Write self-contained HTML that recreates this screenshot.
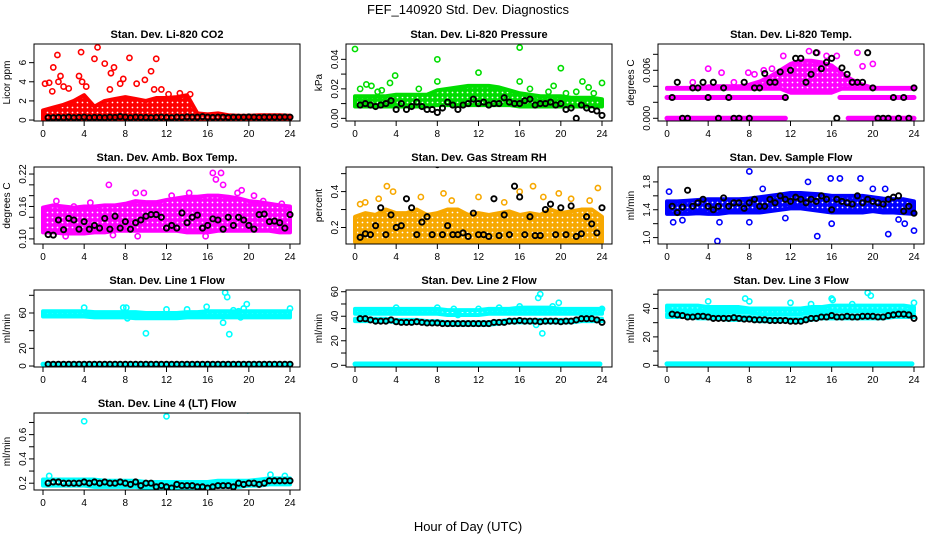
<!DOCTYPE html>
<html><head><meta charset="utf-8"><style>
html,body{margin:0;padding:0;background:#fff;}
svg{display:block;font-family:"Liberation Sans",Arial,sans-serif;}
</style></head><body>
<svg id="chart" width="936" height="540" viewBox="0 0 936 540" xmlns="http://www.w3.org/2000/svg">
<defs id="defs"></defs>
<rect x="0" y="0" width="936" height="540" fill="#fff"/>
<text x="468" y="14" text-anchor="middle" font-size="13">FEF_140920  Std. Dev. Diagnostics</text>
<text x="468" y="531" text-anchor="middle" font-size="13">Hour of Day (UTC)</text>
</svg>
<script>
const hours=[0,1,2,3,4,5,6,7,8,9,10,11,12,13,14,15,16,17,18,19,20,21,22,23,24];
const blkHours=[0.5,1,1.5,2,2.5,3,3.5,4,4.5,5,5.5,6,6.5,7,7.5,8,8.5,9,9.5,10,10.5,11,11.5,12,12.5,13,13.5,14,14.5,15,15.5,16,16.5,17,17.5,18,18.5,19,19.5,20,20.5,21,21.5,22,22.5,23,23.5,24];
const xTicks=[0,4,8,12,16,20,24];

// CO2
const co2Lo=[0.05,0.05,0.05,0.05,0.05,0.05,0.05,0.05,0.05,0.05,0.05,0.05,0.05,0.05,0.05,0.05,0.05,0.05,0.05,0.05,0.05,0.05,0.05,0.05,0.05];
const co2Hi=[1.0,1.3,1.6,2.0,2.6,1.4,2.0,2.2,2.4,2.2,2.0,2.3,2.3,2.4,2.6,0.7,0.6,0.7,0.5,0.45,0.45,0.5,0.5,0.5,0.45];
const co2OutX=[0.2,0.6,1.0,1.4,1.7,1.5,2.5,3.5,3.7,3.8,4.2,5.0,5.3,6.0,6.6,6.9,6.5,7.5,7.8,8.4,9.1,9.9,10.5,11.0,10.8,11.5,13.3,14.3,0.9,2.0,12.2];
const co2OutY=[3.8,3.9,5.5,6.8,4.6,4.0,3.3,4.6,7.1,4.0,3.5,6.4,7.6,5.9,4.9,5.5,3.2,3.8,4.3,6.5,3.8,4.2,5.1,6.4,3.2,3.2,2.8,2.7,3.0,3.5,2.7];
const co2Blk=[0.25,0.25,0.28,0.25,0.3,0.25,0.28,0.3,0.25,0.28,0.27,0.25,0.3,0.28,0.35,0.3,0.25,0.3,0.28,0.27,0.25,0.28,0.3,0.27,0.25,0.3,0.28,0.33,0.3,0.3,0.35,0.3,0.28,0.3,0.3,0.28,0.3,0.3,0.3,0.32,0.3,0.28,0.3,0.3,0.3,0.3,0.32,0.3];
const co2Ticks=[0,2,4,6];const co2Labels=["0","2","4","6"];

// Pressure
const presLo=[0.008,0.008,0.008,0.008,0.008,0.008,0.008,0.008,0.009,0.009,0.009,0.009,0.009,0.009,0.009,0.009,0.008,0.008,0.008,0.008,0.008,0.008,0.008,0.008,0.008];
const presHi=[0.015,0.015,0.015,0.015,0.016,0.016,0.016,0.016,0.019,0.02,0.021,0.022,0.022,0.022,0.021,0.019,0.017,0.016,0.015,0.015,0.015,0.014,0.014,0.014,0.013];
const presOutX=[0,0.5,1.1,1.6,2.6,3.4,3.9,8,8,12,16,16,17,18.8,19.3,20,20.5,21.5,22.1,22.7,23.2,24,2.2,6.2];
const presOutY=[0.047,0.020,0.023,0.022,0.019,0.024,0.029,0.040,0.025,0.031,0.048,0.025,0.020,0.018,0.022,0.034,0.017,0.018,0.025,0.021,0.017,0.024,0.018,0.020];
const presBlk=[0.009,0.01,0.009,0.008,0.009,0.01,0.012,0.006,0.01,0.006,0.008,0.011,0.008,0.006,0.006,0.004,0.007,0.011,0.009,0.006,0.009,0.01,0.013,0.01,0.011,0.009,0.01,0.01,0.014,0.011,0.01,0.01,0.012,0.013,0.009,0.01,0.01,0.011,0.009,0.01,0.006,0.007,0.0,0.009,0.007,0.006,0.005,0.002];
const presTicks=[0,0.01,0.02,0.03,0.04];const presLabels=["0.00","","0.02","","0.04"];

// Li-820 Temp
const ltLo=[0.0037,0.0037,0.0037,0.0037,0.0037,0.0037,0.0037,0.0037,0.0037,0.0037,0.0037,0.0037,0.0032,0.0032,0.0032,0.0032,0.0032,0.0037,0.0037,0.0037,0.0037,0.0037,0.0037,0.0037,0.0037];
const ltHi=[0.0038,0.0038,0.0038,0.0038,0.004,0.004,0.004,0.004,0.0042,0.0046,0.0052,0.006,0.0068,0.0072,0.0072,0.007,0.0066,0.0056,0.0048,0.0042,0.0038,0.0038,0.0038,0.0038,0.0038];
const ltRowVal=[0,0,0.0026,0.0026];const ltRowFrom=[0,17.6,0,16.8];const ltRowTo=[11.5,24,11.5,24];
const ltOutX=[4,5.3,7.9,11.3,13.8,14.6,15.5,16,16.5,18.5,19,20,10.2,9.4,2.5,6.5,8.5];
const ltOutY=[0.0062,0.0057,0.0057,0.0078,0.0084,0.0082,0.0078,0.0075,0.0078,0.0082,0.0065,0.0068,0.0062,0.006,0.0045,0.0045,0.0055];
const ltBlk=[0.0026,0.0045,0.0,0.0,0.0038,0.0038,0.0045,0.0026,0.0045,0.0,0.0038,0.0026,0.0,0.0,0.0045,0.0,0.0038,0.0038,0.0056,0.0045,0.0045,0.0058,0.0026,0.006,0.0075,0.0075,0.0045,0.0055,0.0082,0.0062,0.007,0.0075,0.0,0.0063,0.0055,0.0045,0.0045,0.0045,0.0082,0.0038,0.0,0.0,0.0,0.0026,0.0,0.0026,0.0,0.0038];
const ltTicks=[0,0.002,0.004,0.006,0.008];const ltLabels=["0.000","","","0.006",""];

// Amb box temp
const abLo=[0.112,0.112,0.11,0.11,0.11,0.112,0.112,0.115,0.115,0.115,0.115,0.115,0.115,0.115,0.112,0.112,0.112,0.115,0.115,0.115,0.115,0.115,0.115,0.112,0.112];
const abHi=[0.158,0.162,0.16,0.158,0.16,0.16,0.162,0.162,0.165,0.17,0.168,0.168,0.172,0.175,0.178,0.178,0.18,0.18,0.178,0.175,0.17,0.168,0.165,0.162,0.16];
const abOutX=[0.2,1.3,4.6,6.4,9,9.8,14.2,16.5,16.8,17.3,17.5,18.9,19.3,21.4,23.2,3.0,15.8,9.2,2.2,6.8,12.5,20.5];
const abOutY=[0.155,0.17,0.167,0.2,0.185,0.185,0.185,0.222,0.21,0.222,0.2,0.185,0.19,0.17,0.165,0.16,0.105,0.105,0.105,0.107,0.18,0.18];
const abBlk=[0.108,0.107,0.135,0.117,0.138,0.135,0.118,0.132,0.118,0.125,0.12,0.138,0.118,0.142,0.12,0.132,0.118,0.13,0.135,0.142,0.145,0.145,0.14,0.12,0.125,0.12,0.148,0.13,0.14,0.144,0.12,0.125,0.137,0.135,0.118,0.14,0.125,0.14,0.135,0.125,0.118,0.145,0.146,0.132,0.133,0.13,0.12,0.145];
const abTicks=[0.10,0.12,0.14,0.16,0.18,0.20,0.22];const abLabels=["0.10","","","0.16","","","0.22"];

// Gas stream RH
const rhLo=[0.12,0.12,0.12,0.12,0.12,0.12,0.12,0.12,0.12,0.12,0.12,0.12,0.12,0.12,0.12,0.12,0.12,0.12,0.12,0.12,0.12,0.12,0.12,0.12,0.12];
const rhHi=[0.26,0.28,0.27,0.3,0.28,0.28,0.3,0.27,0.28,0.3,0.3,0.27,0.28,0.27,0.28,0.29,0.27,0.28,0.27,0.3,0.28,0.29,0.3,0.3,0.26];
const rhOutX=[3.1,3.7,17.3,23.6,12,8.6,19.8,0.5,2.3,6.4,16,1.0,9.4,14.5,18.3,21.0,22.8];
const rhOutY=[0.43,0.40,0.43,0.42,0.37,0.39,0.39,0.33,0.36,0.37,0.40,0.34,0.35,0.34,0.37,0.36,0.35];
const rhBlk=[0.145,0.165,0.16,0.21,0.31,0.16,0.27,0.2,0.21,0.36,0.31,0.16,0.23,0.26,0.16,0.55,0.16,0.21,0.16,0.16,0.17,0.15,0.28,0.16,0.16,0.15,0.36,0.155,0.27,0.16,0.43,0.37,0.16,0.26,0.155,0.155,0.3,0.33,0.16,0.31,0.16,0.32,0.15,0.165,0.26,0.22,0.17,0.31];
const rhTicks=[0.2,0.3,0.4,0.5];const rhLabels=["0.2","","0.4",""];

// Sample flow
const sfLo=[1.34,1.34,1.34,1.35,1.34,1.34,1.36,1.36,1.36,1.36,1.38,1.4,1.42,1.42,1.4,1.38,1.36,1.36,1.36,1.36,1.38,1.36,1.36,1.35,1.34];
const sfHi=[1.52,1.52,1.53,1.54,1.55,1.55,1.55,1.55,1.56,1.58,1.6,1.62,1.64,1.64,1.63,1.62,1.6,1.6,1.6,1.6,1.58,1.56,1.55,1.55,1.52];
const sfOutX=[0.2,4.9,8.0,14.6,16.0,16.8,18.8,21.5,23.1,24,13.7,15.9,0.6,8,5.1,20,21.2,9.3,1.5,11.5,22.5];
const sfOutY=[1.66,0.95,1.95,1.02,1.2,1.85,1.85,1.05,1.2,1.1,1.8,1.85,1.22,1.22,1.22,1.7,1.7,1.7,1.25,1.28,1.26];
const sfBlk=[1.45,1.36,1.44,1.68,1.45,1.5,1.55,1.45,1.4,1.45,1.57,1.45,1.5,1.5,1.42,1.5,1.55,1.45,1.45,1.55,1.5,1.6,1.55,1.52,1.58,1.55,1.5,1.55,1.52,1.6,1.55,1.4,1.55,1.52,1.5,1.48,1.6,1.5,1.55,1.52,1.5,1.48,1.55,1.58,1.6,1.38,1.45,1.35];
const sfTicks=[1.0,1.2,1.4,1.6,1.8];const sfLabels=["1.0","","1.4","","1.8"];

// Line 1 flow
const l1Lo=[56,56,56,56,56,55,55,55,55,54,54,54,54,54,55,55,55,55,55,55,55,55,55,55,55];
const l1Hi=[62,62,62,62,62,61,61,61,61,61,60,60,60,60,61,61,62,62,62,62,62,62,62,62,62];
const l1RowVal=[2];const l1RowFrom=[0];const l1RowTo=[24];
const l1OutX=[4,7.8,8.1,10,12,14,15.9,17.5,17.7,17.9,18.1,18.5,19.2,19.5,19.8,24,8.2,19.0];
const l1OutY=[66,66,66,37,64,64,67,49,83,78,36,63,55,65,70,65,54,62];
const l1Blk=[2,2,2,2,2,2,2,2,2,2,2,2,2,2,2,2,2,2,2,2,2,2,2,2,2,2,2,2,2,2,2,2,2,2,2,2,2,2,2,2,2,2,2,2,2,2,2,2];
const l1Ticks=[0,20,40,60,80];const l1Labels=["0","20","","60",""];

// Line 2 flow
const l2Lo=[42,42,42,42,42,42,42,42,42,41,41,41,41,42,42,42,42,42,42,42,42,42,42,42,42];
const l2Hi=[46,46,46,46,46,46,46,46,46,45,45,45,45,46,46,46,47,47,47,47,46,46,46,46,46];
const l2Lo2=[36,36,36,36,35,35,35,34,34,33,33,33,33,33,34,35,35,35,35,35,35,35,36,36,36];
const l2Hi2=[38,38,38,38,37,37,37,36,36,35,35,35,35,35,36,37,37,37,37,37,37,37,38,38,38];
const l2RowVal=[1];const l2RowFrom=[0];const l2RowTo=[23.8];
const l2OutX=[4,8,9.6,10,17.8,18,17.6,18.2,19.8,24,12,14,16,19.2];
const l2OutY=[47,47,46,41,55,58,33,26,51,46,46,47,48,48];
const l2Blk=[38,38,37,36,36,36,37,35.5,35,35,35,35.5,35,34.5,34.5,34.5,34,34,34,34,34,34,34,34,34,34,35,35,35,36,36,36.5,36,36,36,35.5,36,36,36,35.5,36,36,37,38,38,38,37,35];
const l2Ticks=[0,10,20,30,40,50,60];const l2Labels=["0","","20","","40","","60"];

// Line 3 flow
const l3Lo=[38,38,38,38,37,37,37,37,37,36,36,36,36,36,37,37,38,38,38,38,38,38,38,38,38];
const l3Hi=[42,42,42,42,41,41,41,41,40,40,40,40,40,40,41,41,42,42,42,42,42,42,42,42,41];
const l3Lo2=[34,34,34,33,33,33,32,32,32,31,31,31,31,31,32,33,33,33,33,33,33,33,34,34,34];
const l3Hi2=[36,36,36,35,35,35,34,34,34,33,33,33,33,33,34,35,35,35,35,35,35,35,36,36,36];
const l3RowVal=[1];const l3RowFrom=[0];const l3RowTo=[23.8];
const l3OutX=[4,7.6,8,12,16,19.5,19.8,24,14,18,16.1];
const l3OutY=[45,47,45,44,47,51,49,44,43,43,46];
const l3Blk=[36,35.5,35,34,34,34.5,34.5,34,33,33,33,33,33.5,33,32.5,32.5,32,32,32,31.5,31.5,31.5,31.5,31,31,31,32,33,33,34,34,35,34,34,34.5,34,34,34.5,34.5,34.5,34,34,35,35.5,36,36,35.5,33];
const l3Ticks=[0,10,20,30,40,50];const l3Labels=["0","","20","","40",""];

// Line 4 flow
const l4Lo=[0.18,0.18,0.18,0.18,0.18,0.17,0.17,0.17,0.17,0.17,0.16,0.16,0.16,0.16,0.16,0.16,0.17,0.17,0.17,0.17,0.18,0.18,0.19,0.19,0.19];
const l4Hi=[0.23,0.23,0.23,0.23,0.23,0.23,0.22,0.22,0.22,0.22,0.21,0.21,0.21,0.21,0.21,0.21,0.21,0.22,0.22,0.22,0.22,0.23,0.24,0.24,0.24];
const l4OutX=[4,12,19.9,22.1,0.6,23.5];
const l4OutY=[0.71,0.75,0.80,0.27,0.26,0.26];
const l4Blk=[0.2,0.21,0.21,0.2,0.2,0.2,0.2,0.21,0.2,0.21,0.2,0.21,0.2,0.2,0.21,0.2,0.19,0.21,0.18,0.2,0.2,0.17,0.18,0.17,0.16,0.19,0.18,0.18,0.18,0.17,0.17,0.16,0.17,0.18,0.18,0.18,0.17,0.2,0.19,0.2,0.2,0.19,0.2,0.22,0.22,0.22,0.22,0.22];
const l4Ticks=[0.2,0.3,0.4,0.5,0.6,0.7];const l4Labels=["0.2","","0.4","","0.6",""];

const NS="http://www.w3.org/2000/svg";
const svg=document.getElementById('chart');
const defs=document.getElementById('defs');
function mk(tag,attrs,parent){const e=document.createElementNS(NS,tag);for(const k in attrs)e.setAttribute(k,attrs[k]);(parent||svg).appendChild(e);return e;}

const patMade={};
function pattern(col){
  const id='pat'+col.replace('#','');
  if(!patMade[id]){
    const p=mk('pattern',{id:id,width:5,height:5,patternUnits:'userSpaceOnUse'},defs);
    mk('rect',{x:0,y:0,width:5,height:5,fill:col},p);
    mk('circle',{cx:2.5,cy:2.5,r:0.9,fill:'#fff'},p);
    patMade[id]=1;
  }
  return 'url(#'+id+')';
}

const colL=[34,346,658], rowT=[44,167,290,413], W=266, H=77;
const panels=[
 {key:'co2',title:'Stan. Dev. Li-820 CO2',ylab:'Licor ppm',c:0,r:0,ylo:-0.1,yhi:7.95,col:'#ff0000',clouds:[[co2Lo,co2Hi]],rows:null,ox:co2OutX,oy:co2OutY,blk:co2Blk,ticks:co2Ticks,labels:co2Labels},
 {key:'pressure',title:'Stan. Dev. Li-820 Pressure',ylab:'kPa',c:1,r:0,ylo:-0.0018,yhi:0.0504,col:'#00dd00',clouds:[[presLo,presHi]],rows:null,ox:presOutX,oy:presOutY,blk:presBlk,ticks:presTicks,labels:presLabels},
 {key:'li820-temp',title:'Stan. Dev. Li-820 Temp.',ylab:'degrees C',c:2,r:0,ylo:-0.00034,yhi:0.00929,col:'#ff00ff',clouds:[[ltLo,ltHi]],rows:[ltRowVal,ltRowFrom,ltRowTo],ox:ltOutX,oy:ltOutY,blk:ltBlk,ticks:ltTicks,labels:ltLabels},
 {key:'amb-box-temp',title:'Stan. Dev. Amb. Box Temp.',ylab:'degrees C',c:0,r:1,ylo:0.0906,yhi:0.233,col:'#ff00ff',clouds:[[abLo,abHi]],rows:null,ox:abOutX,oy:abOutY,blk:abBlk,ticks:abTicks,labels:abLabels},
 {key:'gas-stream-rh',title:'Stan. Dev. Gas Stream RH',ylab:'percent',c:1,r:1,ylo:0.108,yhi:0.537,col:'#f7a800',clouds:[[rhLo,rhHi]],rows:null,ox:rhOutX,oy:rhOutY,blk:rhBlk,ticks:rhTicks,labels:rhLabels},
 {key:'sample-flow',title:'Stan. Dev. Sample Flow',ylab:'ml/min',c:2,r:1,ylo:0.908,yhi:2.014,col:'#0000ff',clouds:[[sfLo,sfHi]],rows:null,ox:sfOutX,oy:sfOutY,blk:sfBlk,ticks:sfTicks,labels:sfLabels},
 {key:'line1-flow',title:'Stan. Dev. Line 1 Flow',ylab:'ml/min',c:0,r:2,ylo:-1.1,yhi:86,col:'#00ffff',clouds:[[l1Lo,l1Hi]],rows:[l1RowVal,l1RowFrom,l1RowTo],ox:l1OutX,oy:l1OutY,blk:l1Blk,ticks:l1Ticks,labels:l1Labels},
 {key:'line2-flow',title:'Stan. Dev. Line 2 Flow',ylab:'ml/min',c:1,r:2,ylo:-1.4,yhi:61.4,col:'#00ffff',clouds:[[l2Lo,l2Hi],[l2Lo2,l2Hi2]],rows:[l2RowVal,l2RowFrom,l2RowTo],ox:l2OutX,oy:l2OutY,blk:l2Blk,ticks:l2Ticks,labels:l2Labels},
 {key:'line3-flow',title:'Stan. Dev. Line 3 Flow',ylab:'ml/min',c:2,r:2,ylo:-1.2,yhi:53,col:'#00ffff',clouds:[[l3Lo,l3Hi],[l3Lo2,l3Hi2]],rows:[l3RowVal,l3RowFrom,l3RowTo],ox:l3OutX,oy:l3OutY,blk:l3Blk,ticks:l3Ticks,labels:l3Labels},
 {key:'line4-flow',title:'Stan. Dev. Line 4 (LT) Flow',ylab:'ml/min',c:0,r:3,ylo:0.144,yhi:0.778,col:'#00ffff',clouds:[[l4Lo,l4Hi]],rows:null,ox:l4OutX,oy:l4OutY,blk:l4Blk,ticks:l4Ticks,labels:l4Labels}
];

panels.forEach((p,pi)=>{
  const L=colL[p.c],T=rowT[p.r];
  const xs=h=>L+9+h*(247/24);
  const ys=v=>T+(p.yhi-v)/(p.yhi-p.ylo)*H;
  const g=mk('g',{});
  
  
  const cid='clip'+pi;
  const cp=mk('clipPath',{id:cid},g);mk('rect',{x:L,y:T,width:W,height:H},cp);
  const t=mk('text',{x:L+W/2,y:T-6,'text-anchor':'middle','font-size':'11','font-weight':'bold'},g);
  t.textContent=p.title;
  
  
  const yl=mk('text',{x:0,y:0,transform:`translate(${L-24},${T+H/2}) rotate(-90)`,'text-anchor':'middle','font-size':'10'},g);
  yl.textContent=p.ylab;
  
  
  const plot=mk('g',{'clip-path':`url(#${cid})`},g);
  const fillP=pattern(p.col);
  p.clouds.forEach(cl=>{
    const [lo,hi]=cl;
    let pts=hours.map((h,i)=>xs(h)+','+ys(hi[i]));
    pts=pts.concat(hours.slice().reverse().map((h,j)=>{const i=hours.length-1-j;return xs(h)+','+ys(lo[i]);}));
    const poly=mk('polygon',{points:pts.join(' '),fill:fillP,stroke:p.col,'stroke-width':'4','stroke-linejoin':'round'},plot);
    
    
  });
  if(p.rows){
    const [vals,from,to]=p.rows;
    vals.forEach((v,i)=>{
      const ln=mk('line',{x1:xs(from[i]),x2:xs(to[i]),y1:ys(v),y2:ys(v),stroke:p.col,'stroke-width':'5','stroke-linecap':'round'},plot);
      
      
    });
  }
  p.ox.forEach((x,i)=>{
    const c=mk('circle',{cx:xs(x),cy:ys(p.oy[i]),r:2.6,fill:'none',stroke:p.col,'stroke-width':'1.6'},plot);
    
    
  });
  blkHours.forEach((h,i)=>{
    const c=mk('circle',{cx:xs(h),cy:ys(p.blk[i]),r:2.6,fill:'none',stroke:'#000','stroke-width':'1.9'},plot);
    
    
  });
  const box=mk('rect',{x:L,y:T,width:W,height:H,fill:'none',stroke:'#000','stroke-width':'1'},g);
  
  
  xTicks.forEach(h=>{
    mk('line',{x1:xs(h),x2:xs(h),y1:T+H,y2:T+H+5,stroke:'#000'},g);
    const tl=mk('text',{x:xs(h),y:T+H+16,'text-anchor':'middle','font-size':'10'},g);
    tl.textContent=h;
    
    
  });
  p.ticks.forEach((v,i)=>{
    mk('line',{x1:L-5,x2:L,y1:ys(v),y2:ys(v),stroke:'#000'},g);
    if(p.labels[i]){
      const tl=mk('text',{x:0,y:0,transform:`translate(${L-8},${ys(v)}) rotate(-90)`,'text-anchor':'middle','font-size':'10'},g);
      tl.textContent=p.labels[i];
      
      
    }
  });
});
</script>
</body></html>
